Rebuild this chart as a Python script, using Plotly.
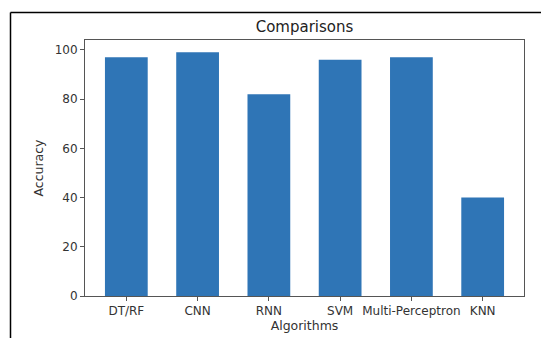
import plotly.graph_objects as go

categories = ["DT/RF", "CNN", "RNN", "SVM", "Multi-Perceptron", "KNN"]
accuracy = [97, 99, 82, 96, 97, 40]
y_ticks = [0, 20, 40, 60, 80, 100]

# page body has an 8px margin, so the figure is offset by 8px
W, H = 541, 330
L, R, T, B = 77, 25, 32, 42
pw, ph = W - L - R, H - T - B

fig = go.Figure(go.Bar(
    x=list(range(len(categories))), y=accuracy, width=0.6,
    marker=dict(color="#2f75b6", line=dict(width=0)),
))

text_col = "#333333"
fx, fy = 2.5, 4.5  # frame corner (figure pixels)
fig.update_layout(
    width=W, height=H,
    margin=dict(l=L, r=R, t=T, b=B),
    paper_bgcolor="white", plot_bgcolor="white",
    font=dict(family="DejaVu Sans", size=12, color=text_col),
    showlegend=False,
    title=dict(text="Comparisons", x=(L + pw / 2) / W, xanchor="center",
               y=1 - 19 / H, yanchor="middle", font=dict(size=15, color="#222")),
    xaxis=dict(
        tickmode="array", tickvals=list(range(len(categories))), ticktext=categories,
        range=[-0.58, 5.58], showgrid=False, zeroline=False,
        showline=True, linecolor="#555", linewidth=1, mirror=True,
        ticks="outside", ticklen=4, tickcolor="#555",
        title=dict(text="Algorithms", standoff=0, font=dict(size=12.5)),
    ),
    yaxis=dict(
        tickmode="array", tickvals=y_ticks, range=[0, 104],
        showgrid=False, zeroline=False,
        showline=True, linecolor="#555", linewidth=1, mirror=True,
        ticks="outside", ticklen=4, tickcolor="#555",
        title=dict(text="Accuracy", standoff=8, font=dict(size=12.5)),
    ),
    shapes=[
        dict(type="line", xref="paper", yref="paper",
             x0=(fx - L) / pw, x1=(W + 2 - L) / pw,
             y0=(H - B - fy) / ph, y1=(H - B - fy) / ph,
             line=dict(color="black", width=1.5)),
        dict(type="line", xref="paper", yref="paper",
             x0=(fx - L) / pw, x1=(fx - L) / pw,
             y0=(H - B - fy) / ph, y1=(H - B - H - 2) / ph,
             line=dict(color="black", width=1.5)),
    ],
)

fig.write_html("out.html")
